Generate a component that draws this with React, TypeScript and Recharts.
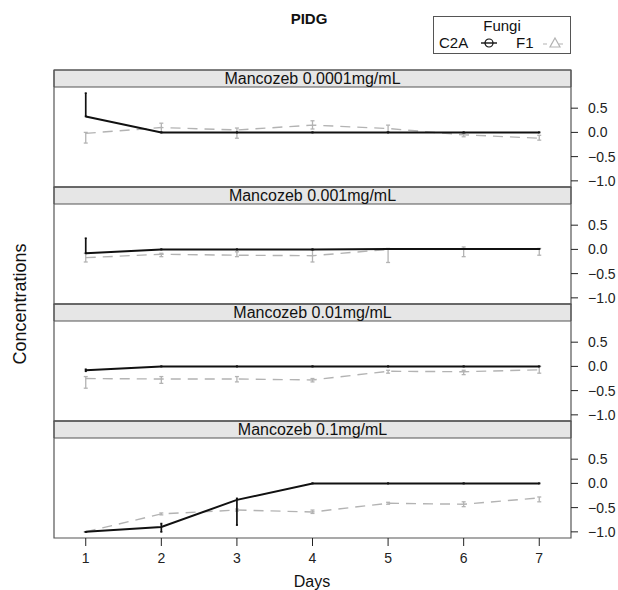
import React from 'react'
import { LineChart, Line, XAxis, YAxis, ReferenceArea, ErrorBar } from 'recharts'

const days = [1, 2, 3, 4, 5, 6, 7]
const yTicks = [-1, -0.5, 0, 0.5]
const panelTitles = ['Mancozeb 0.0001mg/mL', 'Mancozeb 0.001mg/mL', 'Mancozeb 0.01mg/mL', 'Mancozeb 0.1mg/mL']

// means per day, errors as [minus, plus]
const c2aDose1 = [0.33, 0, 0, 0, 0, 0, 0]
const c2aDose1Err = [[0, 0.48], [0, 0], [0, 0], [0, 0], [0, 0], [0, 0], [0, 0]]
const f1Dose1 = [-0.02, 0.1, 0.05, 0.15, 0.08, -0.05, -0.12]
const f1Dose1Err = [[0.2, 0.02], [0.1, 0.09], [0.17, 0.04], [0.08, 0.09], [0.07, 0.07], [0.04, 0.03], [0.04, 0.06]]

const c2aDose2 = [-0.08, 0, 0, 0, 0.01, 0.01, 0.01]
const c2aDose2Err = [[0, 0.31], [0, 0], [0, 0], [0, 0], [0, 0], [0, 0], [0, 0]]
const f1Dose2 = [-0.17, -0.1, -0.12, -0.13, 0, 0.01, 0]
const f1Dose2Err = [[0.09, 0.09], [0.05, 0.02], [0.03, 0.07], [0.13, 0.12], [0.27, 0.02], [0.16, 0.04], [0.12, 0.02]]

const c2aDose3 = [-0.08, 0, 0, 0, 0, 0, 0]
const c2aDose3Err = [[0.02, 0.02], [0, 0], [0, 0], [0, 0], [0, 0], [0, 0], [0, 0]]
const f1Dose3 = [-0.25, -0.26, -0.26, -0.28, -0.1, -0.11, -0.07]
const f1Dose3Err = [[0.2, 0.04], [0.09, 0.05], [0.06, 0.05], [0.04, 0.03], [0.04, 0.02], [0.06, 0.03], [0.07, 0.07]]

const c2aDose4 = [-1.0, -0.9, -0.34, 0, 0, 0, 0]
const c2aDose4Err = [[0, 0], [0.1, 0.07], [0.52, 0.03], [0, 0], [0, 0], [0, 0], [0, 0]]
const f1Dose4 = [-1.0, -0.63, -0.55, -0.59, -0.41, -0.43, -0.3]
const f1Dose4Err = [[0, 0], [0.02, 0.02], [0.02, 0.02], [0.03, 0.04], [0.02, 0.02], [0.05, 0.05], [0.08, 0.02]]

const series = [
  [c2aDose1, c2aDose1Err, f1Dose1, f1Dose1Err],
  [c2aDose2, c2aDose2Err, f1Dose2, f1Dose2Err],
  [c2aDose3, c2aDose3Err, f1Dose3, f1Dose3Err],
  [c2aDose4, c2aDose4Err, f1Dose4, f1Dose4Err],
]

const X_MIN = 0.58
const X_MAX = 7.42
const Y_MIN = -1.127
const Y_STRIP = 0.937
const Y_MAX = 1.288
const FONT = '"Liberation Sans", Arial, Helvetica, sans-serif'
const INK = '#222'
const FRAME = '#555'
const GREY = '#b3b3b3'

const fmt = (v: number) => (v < 0 ? '\u2212' + Math.abs(v).toFixed(1) : v.toFixed(1))

function Panel({ idx }: { idx: number }) {
  const [c2a, c2aErr, f1, f1Err] = series[idx] as any[]
  const rows = days.map((day, i) => ({ day, c2a: c2a[i], c2aErr: c2aErr[i], f1: f1[i], f1Err: f1Err[i] }))
  const first = idx === 0
  const last = idx === 3
  const top = first ? 0 : 70 + 117 * idx
  const height = first ? 187 : last ? 169 : 117
  return (
    <div style={{ position: 'absolute', left: 0, top, zIndex: 4 - idx }}>
      <LineChart width={618} height={height} data={rows}
        margin={{ top: first ? 54 : 0, right: 0, bottom: 0, left: 0 }}>
        <XAxis type="number" dataKey="day" domain={[X_MIN, X_MAX]} ticks={days} allowDataOverflow interval={0}
          hide={!first && !last} orientation={first ? 'top' : 'bottom'} height={first ? 16 : 52}
          axisLine={false} tickLine={{ stroke: INK }} tickSize={8} tickMargin={7}
          tick={last ? { fontSize: 14, fill: INK, fontFamily: FONT } : false} />
        <YAxis yAxisId="l" orientation="left" width={54} domain={[Y_MIN, Y_MAX]} ticks={yTicks} interval={0}
          allowDataOverflow axisLine={false} tickLine={{ stroke: INK }} tickSize={7} tick={false} />
        <YAxis yAxisId="r" orientation="right" width={47} domain={[Y_MIN, Y_MAX]} ticks={yTicks} interval={0}
          allowDataOverflow axisLine={false} tickLine={{ stroke: INK }} tickSize={7} tickMargin={10}
          tickFormatter={fmt} tick={{ fontSize: 14, fill: INK, fontFamily: FONT, textAnchor: 'start' }} />
        <ReferenceArea yAxisId="l" x1={X_MIN} x2={X_MAX} y1={Y_STRIP} y2={Y_MAX}
          fill="#e6e6e6" fillOpacity={1} stroke={FRAME} strokeWidth={1}
          label={{ value: panelTitles[idx], position: 'center', fontSize: 16, fill: '#111', fontFamily: FONT }} />
        <Line yAxisId="l" dataKey="f1" stroke={GREY} strokeWidth={1.4} strokeDasharray="10 7"
          dot={false} isAnimationActive={false}>
          <ErrorBar dataKey="f1Err" direction="y" width={2} stroke={GREY} strokeWidth={1.3} isAnimationActive={false} />
        </Line>
        <Line yAxisId="l" dataKey="c2a" stroke="#111" strokeWidth={2} dot={false} isAnimationActive={false}>
          <ErrorBar dataKey="c2aErr" direction="y" width={1} stroke="#111" strokeWidth={1.7} isAnimationActive={false} />
        </Line>
        <ReferenceArea yAxisId="l" x1={X_MIN} x2={X_MAX} y1={Y_MIN} y2={Y_MAX}
          fill="none" stroke={FRAME} strokeWidth={1.2} />
      </LineChart>
    </div>
  )
}

function LegendBox() {
  return (
    <div style={{
      position: 'absolute', left: 433, top: 16, width: 136, height: 36, border: `1px solid ${FRAME}`,
      fontFamily: FONT, fontSize: 15, color: '#111',
    }}>
      <div style={{ position: 'absolute', left: 0, right: 0, top: 0, textAlign: 'center' }}>Fungi</div>
      <div style={{ position: 'absolute', left: 5, top: 17 }}>C2A</div>
      <svg style={{ position: 'absolute', left: 46, top: 19 }} width={18} height={14}>
        <line x1={1} y1={7} x2={17} y2={7} stroke="#111" strokeWidth={1.4} />
        <circle cx={9} cy={7} r={4} fill="none" stroke="#111" strokeWidth={1.2} />
      </svg>
      <div style={{ position: 'absolute', left: 82, top: 17 }}>F1</div>
      <svg style={{ position: 'absolute', left: 108, top: 19 }} width={26} height={14}>
        <line x1={1} y1={8} x2={25} y2={8} stroke={GREY} strokeWidth={1.2} strokeDasharray="4 4" />
        <polygon points="13,2 18,11 8,11" fill="white" stroke={GREY} strokeWidth={1.2} />
      </svg>
    </div>
  )
}

export default function App() {
  return (
    <div style={{ position: 'absolute', left: 0, top: 0, width: 618, height: 590, background: '#fff', fontFamily: FONT }}>
      <style>{'.recharts-surface { overflow: visible; }'}</style>
      <div style={{ position: 'absolute', left: 259, width: 100, top: 10, textAlign: 'center', fontWeight: 'bold', fontSize: 15, color: '#111' }}>
        PIDG
      </div>
      <LegendBox />
      {panelTitles.map((_, i) => <Panel key={i} idx={i} />)}
      <div style={{
        position: 'absolute', left: 20, top: 304, transform: 'translate(-50%, -50%) rotate(-90deg)',
        fontSize: 18, color: '#111', whiteSpace: 'nowrap',
      }}>
        Concentrations
      </div>
      <div style={{ position: 'absolute', left: 262, width: 100, top: 573, textAlign: 'center', fontSize: 16, color: '#111' }}>
        Days
      </div>
    </div>
  )
}
